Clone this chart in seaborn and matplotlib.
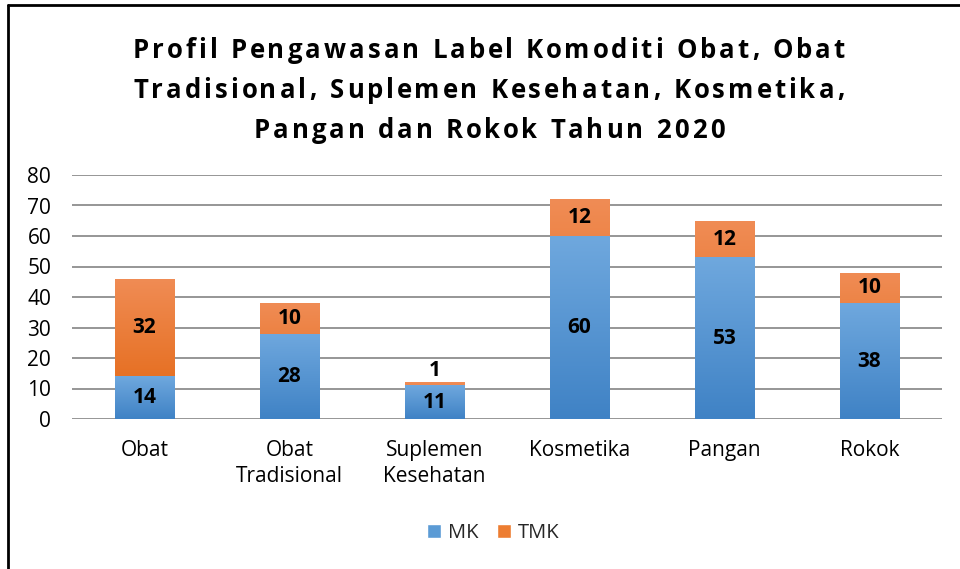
import numpy as np
import pandas as pd
import matplotlib.pyplot as plt
import seaborn as sns
from matplotlib.patches import Patch
from matplotlib.lines import Line2D
from matplotlib.colors import LinearSegmentedColormap

# Data
categories = ["Obat", "Obat\nTradisional", "Suplemen\nKesehatan",
              "Kosmetika", "Pangan", "Rokok"]
mk = [14, 28, 11, 60, 53, 38]
tmk = [32, 10, 1, 12, 12, 10]
y_ticks = [0, 10, 20, 30, 40, 50, 60, 70, 80]
title_lines = ["Profil Pengawasan Label Komoditi Obat, Obat",
               "Tradisional, Suplemen Kesehatan, Kosmetika,",
               "Pangan dan Rokok Tahun 2020"]

blue = "#5B9BD5"
orange = "#ED7D31"

df = pd.DataFrame({"Komoditi": categories, "MK": mk, "TMK": tmk})
df["Total"] = df["MK"] + df["TMK"]

sns.set_style("white")
plt.rcParams['font.family'] = ['Open Sans', 'DejaVu Sans']

W, H = 960, 569
fig = plt.figure(figsize=(W / 100, H / 100), dpi=100)
ax = fig.add_axes([72 / W, 1 - 419 / H, 870 / W, 244 / H])

# stacked: total (orange) first, then MK (blue) over it
sns.barplot(data=df, x="Komoditi", y="Total", color=orange, width=0.41,
            saturation=1, linewidth=0, ax=ax, zorder=3)
sns.barplot(data=df, x="Komoditi", y="MK", color=blue, width=0.41,
            saturation=1, linewidth=0, ax=ax, zorder=4)

n = len(categories)
tot_bars = ax.patches[:n]
mk_bars = ax.patches[n:]

# soft vertical gradient like the Excel fill
grad = np.linspace(1, 0, 256).reshape(-1, 1)
cm_blue = LinearSegmentedColormap.from_list("b", ["#3F82C5", "#6FA8DE"])
cm_orange = LinearSegmentedColormap.from_list("o", ["#E2650F", "#F08C55"])
for bars, cmap, z in ((tot_bars, cm_orange, 3.5), (mk_bars, cm_blue, 4.5)):
    for b in bars:
        x0, y0 = b.get_x(), b.get_y()
        im = ax.imshow(grad, cmap=cmap, aspect="auto", zorder=z,
                       extent=(x0, x0 + b.get_width(), y0, y0 + b.get_height()),
                       origin="upper", vmin=0, vmax=1)
        im.set_clip_path(b)

for b, v in zip(mk_bars, mk):
    ax.text(b.get_x() + b.get_width() / 2, b.get_height() / 2, str(v),
            ha="center", va="center", fontsize=15, fontweight="bold",
            color="black", zorder=6)
for b, m, t in zip(tot_bars, mk, tmk):
    ypos = m + t / 2
    if t < 3:
        ypos = m + t + 4
    ax.text(b.get_x() + b.get_width() / 2, ypos, str(t),
            ha="center", va="center", fontsize=15, fontweight="bold",
            color="black", zorder=6)

ax.set_ylim(0, 80)
ax.set_xlim(-0.5, n - 0.5)
ax.set_yticks(y_ticks)
ax.yaxis.grid(True, color="#969696", linewidth=1.4, zorder=0)
ax.set_axisbelow(True)
for s in ax.spines.values():
    s.set_visible(False)
ax.tick_params(axis="both", length=0, labelsize=15, colors="black")
ax.tick_params(axis="y", pad=15)
ax.tick_params(axis="x", pad=15)
plt.setp(ax.get_xticklabels(), linespacing=1.3)
ax.set_xlabel("")
ax.set_ylabel("")

# letter-spaced title, one character at a time
renderer = fig.canvas.get_renderer()
tkw = dict(fontsize=18.5, fontweight="bold", color="black")


def text_w(s):
    t = fig.text(0, 0, s, **tkw)
    w = t.get_window_extent(renderer).width
    t.remove()
    return w


base = text_w("xx")
line_ys = [47, 87, 127]
widths = [[text_w("x" + c + "x") - base for c in line] for line in title_lines]
gap = (712 - sum(widths[0])) / (len(title_lines[0]) - 1)
for line, ws, yc in zip(title_lines, widths, line_ys):
    total = sum(ws) + gap * (len(line) - 1)
    x = 489 - total / 2
    for c, w in zip(line, ws):
        if c != " ":
            fig.text(x / W, 1 - yc / H, c, ha="left", va="center_baseline", **tkw)
        x += w + gap

handles = [Patch(facecolor=blue, label="MK"),
           Patch(facecolor=orange, label="TMK")]
fig.legend(handles=handles, loc="center", bbox_to_anchor=(493 / W, 1 - 533 / H),
           ncol=2, frameon=False, fontsize=14.5, handlelength=0.7,
           handleheight=0.7, handletextpad=0.35, columnspacing=0.9)

# outer border (top and left visible)
fig.add_artist(Line2D([8 / W, 8 / W], [0, 1 - 5 / H], color="black",
                      linewidth=2, transform=fig.transFigure))
fig.add_artist(Line2D([8 / W, 1], [1 - 5 / H, 1 - 5 / H], color="black",
                      linewidth=2, transform=fig.transFigure))

fig.savefig("out.png", dpi=100)
